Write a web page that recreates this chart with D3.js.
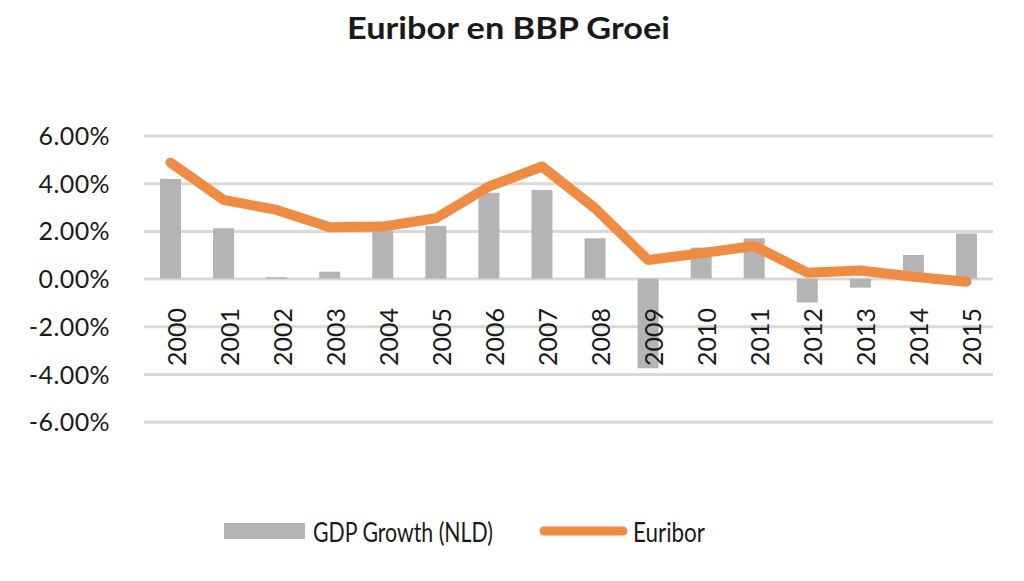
<!DOCTYPE html>
<html>
<head>
<meta charset="utf-8">
<script src="https://cdn.jsdelivr.net/npm/d3@7"></script>
<style>
  html, body { margin: 0; padding: 0; background: #fff; }
  svg { display: block; }
  text { font-family: Lato, "Open Sans", sans-serif; fill: #1a1a1a; }
</style>
</head>
<body>
<svg id="chart" width="1024" height="581"></svg>
<script>
const years = ["2000","2001","2002","2003","2004","2005","2006","2007","2008","2009","2010","2011","2012","2013","2014","2015"];
const gdpGrowth = [4.18, 2.11, 0.06, 0.29, 2.0, 2.21, 3.6, 3.72, 1.69, -3.76, 1.3, 1.69, -1.0, -0.38, 0.99, 1.89];
const euribor = [4.86, 3.3, 2.88, 2.15, 2.18, 2.53, 3.86, 4.7, 2.95, 0.78, 1.06, 1.37, 0.25, 0.34, 0.08, -0.13];
const yTicks = [6, 4, 2, 0, -2, -4, -6];
const title = "Euribor en BBP Groei";
const legendLabels = ["GDP Growth (NLD)", "Euribor"];

const svg = d3.select("#chart");
const plot = { left: 144, right: 993, top: 135.5, bottom: 421.7 };

const xc = d3.scalePoint().domain(years).range([plot.left, plot.right]).padding(0.5);
const y = d3.scaleLinear().domain([-6, 6]).range([plot.bottom, plot.top]);

// title
svg.append("text").attr("x", 347).attr("y", 39)
  .attr("textLength", 323).attr("lengthAdjust", "spacingAndGlyphs")
  .style("font-size", "31px").style("font-weight", "bold").text(title);

// gridlines + y labels
const yAxis = d3.axisLeft(y).tickValues(yTicks).tickSize(-(plot.right - plot.left))
  .tickFormat(d => d.toFixed(2) + "%");
const gy = svg.append("g").attr("transform", `translate(${plot.left},0)`).call(yAxis);
gy.select(".domain").remove();
gy.selectAll(".tick line").attr("stroke", "#d9d9d9").attr("stroke-width", 3);
gy.selectAll(".tick text").attr("x", -34).attr("dy", "0.36em")
  .style("font-size", "25px").style("letter-spacing", "0.4px").attr("fill", "#1a1a1a");

// bars
const bw = 21;
svg.append("g").selectAll("rect").data(years).join("rect")
  .attr("x", (d) => xc(d) - bw / 2)
  .attr("width", bw)
  .attr("y", (d, i) => y(Math.max(0, gdpGrowth[i])))
  .attr("height", (d, i) => Math.abs(y(gdpGrowth[i]) - y(0)))
  .attr("fill", "#b4b4b4");

// x labels
svg.append("g").selectAll("text").data(years).join("text")
  .attr("transform", d => `translate(${xc(d) + 5},${y(-2.45)}) rotate(-90)`)
  .attr("text-anchor", "middle").attr("dominant-baseline", "central")
  .style("font-size", "25px").text(d => d);

// line
const line = d3.line().x((d, i) => xc(years[i])).y(d => y(d));
svg.append("path").datum(euribor).attr("d", line)
  .attr("fill", "none").attr("stroke", "#f08c41").attr("stroke-width", 10)
  .attr("stroke-linejoin", "round").attr("stroke-linecap", "round");

// legend
const lg = svg.append("g");
lg.append("rect").attr("x", 224).attr("y", 523).attr("width", 81).attr("height", 16).attr("fill", "#b4b4b4");
lg.append("text").attr("x", 313).attr("y", 532).attr("dominant-baseline", "central")
  .attr("textLength", 180).attr("lengthAdjust", "spacingAndGlyphs")
  .style("font-size", "26px").text(legendLabels[0]);
lg.append("line").attr("x1", 544).attr("x2", 623).attr("y1", 531).attr("y2", 531)
  .attr("stroke", "#f08c41").attr("stroke-width", 9).attr("stroke-linecap", "round");
lg.append("text").attr("x", 633).attr("y", 532).attr("dominant-baseline", "central")
  .attr("textLength", 72).attr("lengthAdjust", "spacingAndGlyphs")
  .style("font-size", "26px").text(legendLabels[1]);
</script>
</body>
</html>
